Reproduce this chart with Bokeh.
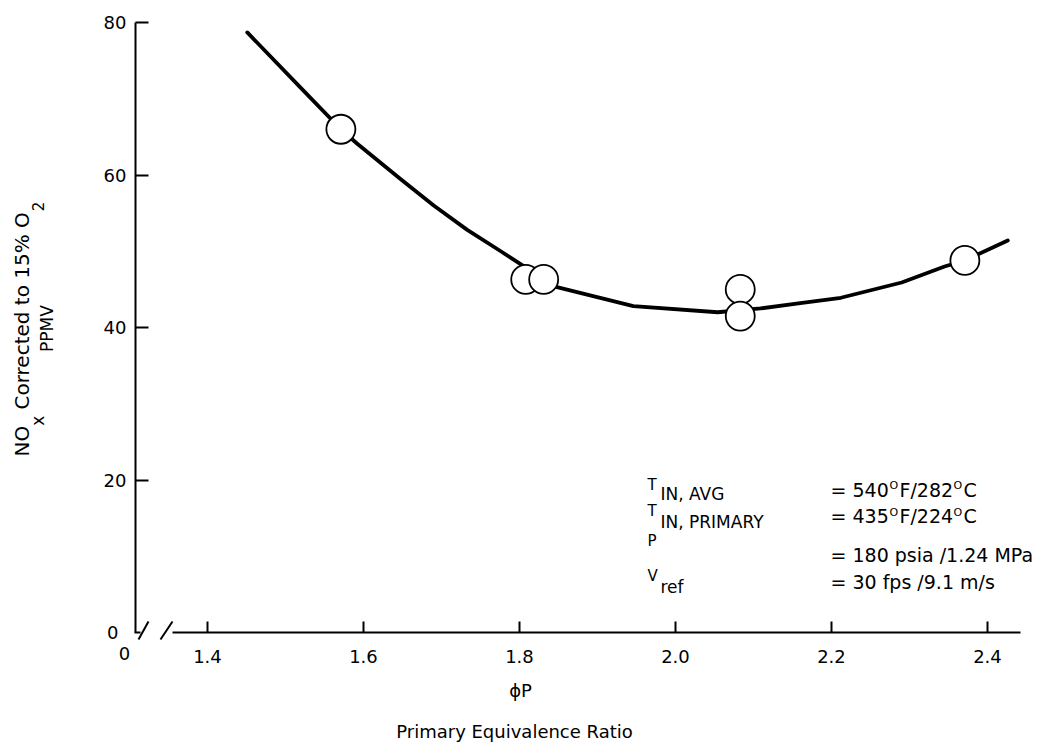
from bokeh.plotting import figure
from bokeh.models import Label, FixedTicker, Range1d, NumeralTickFormatter
from bokeh.embed import file_html
from bokeh.resources import INLINE

# ---------------- data ----------------
curve_phi = [1.451, 1.519, 1.571, 1.592, 1.647, 1.690, 1.733, 1.776, 1.830,
             1.848, 1.946, 2.054, 2.109, 2.160, 2.212, 2.290, 2.345, 2.371, 2.426]
curve_nox = [78.7, 71.5, 66.0, 64.1, 59.5, 56.0, 52.8, 50.0, 46.4,
             45.3, 42.8, 42.0, 42.5, 43.2, 43.9, 45.9, 48.0, 48.8, 51.4]

point_phi = [1.571, 1.808, 1.831, 2.083, 2.083, 2.371]
point_nox = [66.0, 46.3, 46.3, 45.0, 41.5, 48.8]

x_ticks = [1.4, 1.6, 1.8, 2.0, 2.2, 2.4]
y_ticks = [20, 40, 60, 80]

# ---------------- layout ----------------
W, H = 1032, 744
PXX = 780.0      # pixels per unit of phi
PXY = 7.625      # pixels per ppm
X0 = 1.4 - 207 / PXX
X1 = X0 + W / PXX
YT = 632 / PXY
YB = YT - H / PXY
FONT = "DejaVu Sans"


def dx(px):
    return X0 + px / PXX


def dy(py):
    return YT - py / PXY


p = figure(width=W, height=H, x_range=Range1d(X0, X1), y_range=Range1d(YB, YT),
           output_backend="svg", toolbar_location=None,
           min_border_left=0, min_border_right=0,
           min_border_top=0, min_border_bottom=0)
p.grid.visible = False
p.outline_line_color = None
p.background_fill_color = "white"
p.border_fill_color = "white"

xa = p.xaxis[0]
xa.fixed_location = 0
xa.ticker = FixedTicker(ticks=x_ticks)
xa.formatter = NumeralTickFormatter(format="0.0")
xa.bounds = (dx(172), dx(1020))
xa.axis_line_width = 2
xa.axis_line_color = "black"
xa.major_tick_in = 11
xa.major_tick_out = 0
xa.major_tick_line_width = 2
xa.minor_tick_line_color = None
xa.major_label_standoff = 17
xa.major_label_text_font = FONT
xa.major_label_text_font_size = "18px"
xa.major_label_text_color = "black"

ya = p.yaxis[0]
ya.fixed_location = dx(135)
ya.ticker = FixedTicker(ticks=y_ticks)
ya.formatter = NumeralTickFormatter(format="0")
ya.bounds = (0, 80)
ya.axis_line_width = 2
ya.axis_line_color = "black"
ya.major_tick_in = 13
ya.major_tick_out = 0
ya.major_tick_line_width = 2
ya.minor_tick_line_color = None
ya.major_label_standoff = 9
ya.major_label_text_font = FONT
ya.major_label_text_font_size = "18px"
ya.major_label_text_color = "black"

# axis break marks (corner stub and two slashes)
p.segment(x0=[dx(134), dx(138), dx(160)], y0=[0, dy(639), dy(639)],
          x1=[dx(140), dx(148), dx(172)], y1=[0, dy(621), dy(621)],
          line_color="black", line_width=2)

p.line(curve_phi, curve_nox, line_width=3.8, line_color="black",
       line_join="round", line_cap="round")
p.scatter(point_phi, point_nox, marker="circle", size=29, fill_color="white",
          line_color="black", line_width=1.8)


def lab(text, px, py, size, align="left", angle=0):
    p.add_layout(Label(x=dx(px), y=dy(py), text=text, text_font=FONT,
                       text_font_size=f"{size}px", text_align=align,
                       text_baseline="middle", angle=angle, angle_units="deg",
                       text_color="black"))


# origin labels
lab("0", 124, 653, 18, align="center")
lab("0", 118, 632, 18, align="right")

# x-axis titles
lab("\u03d5P", 520, 690, 18, align="center")
lab("Primary Equivalence Ratio", 514, 731, 18, align="center")

# y-axis title (rotated, with subscripts)
lab("NO", 21, 456, 20, angle=90)
lab("x", 37, 425.3, 17, angle=90)
lab("Corrected to 15% O", 21, 409, 20, angle=90)
lab("2", 37, 210.8, 15, angle=90)
lab("PPMV", 46.5, 328, 17, align="center", angle=90)

# condition block
lab("T", 647, 484, 15)
lab("IN, AVG", 660, 493.5, 17)
lab("T", 647, 510, 15)
lab("IN, PRIMARY", 660, 521, 17)
lab("P", 647, 540.5, 15)
lab("V", 647, 575, 15)
lab("ref", 660, 586, 17)

lab("= 540", 830, 489.5, 19)
lab("O", 889, 485, 11)
lab("F/282", 899, 489.5, 19)
lab("O", 953, 485, 11)
lab("C", 963, 489.5, 19)

lab("= 435", 830, 515.5, 19)
lab("O", 889, 512, 11)
lab("F/224", 899, 515.5, 19)
lab("O", 953, 512, 11)
lab("C", 963, 515.5, 19)

lab("= 180 psia /1.24 MPa", 830, 554.5, 19)
lab("= 30 fps /9.1 m/s", 830, 581, 19)

open("out.html", "w").write(file_html(p, INLINE))
